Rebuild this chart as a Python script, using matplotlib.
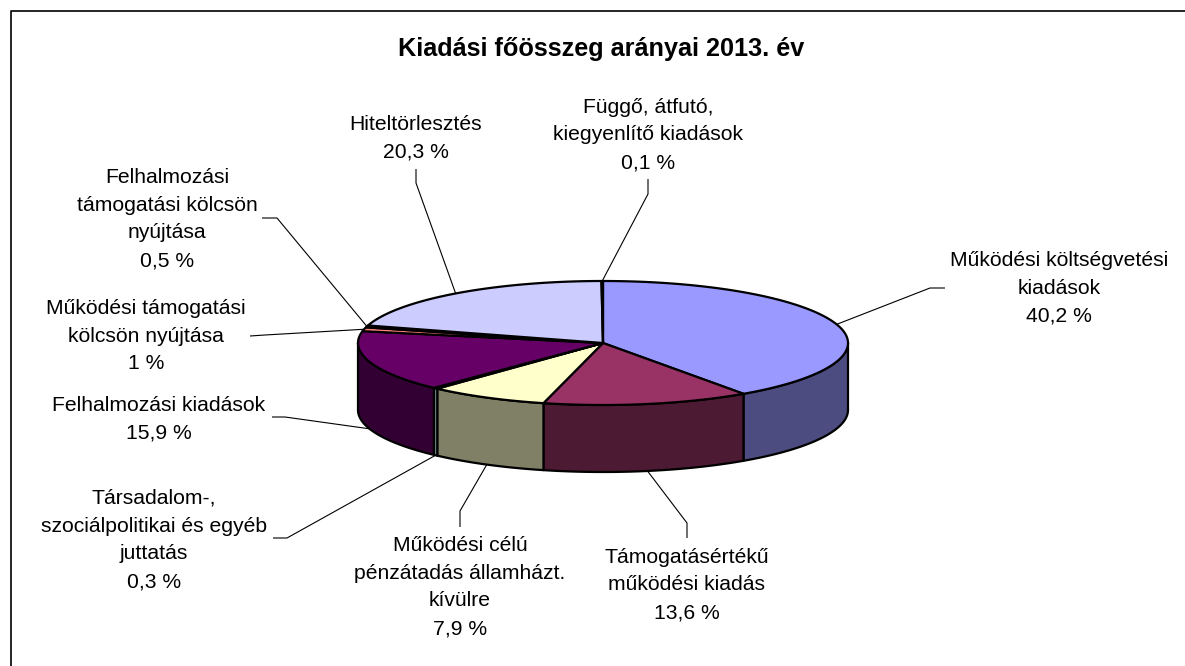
"""
Kiadási főösszeg arányai 2013. év -- 3D-style pie chart (Excel look).
"""

import numpy as np
import matplotlib
matplotlib.use("Agg")
import matplotlib.pyplot as plt
from matplotlib.patches import Polygon

plt.rcParams["font.family"] = ["Liberation Sans", "DejaVu Sans"]

# ── data ──────────────────────────────────────────────────────────
TITLE = "Kiadási főösszeg arányai 2013. év"

labels = [
    "Működési költségvetési\nkiadások",
    "Támogatásértékű\nműködési kiadás",
    "Működési célú\npénzátadás államházt.\nkívülre",
    "Társadalom-,\nszociálpolitikai és egyéb\njuttatás",
    "Felhalmozási kiadások",
    "Működési támogatási\nkölcsön nyújtása",
    "Felhalmozási\ntámogatási kölcsön\nnyújtása",
    "Hiteltörlesztés",
    "Függő, átfutó,\nkiegyenlítő kiadások",
]
values = [40.2, 13.6, 7.9, 0.3, 15.9, 1.0, 0.5, 20.3, 0.1]
value_text = ["40,2 %", "13,6 %", "7,9 %", "0,3 %", "15,9 %", "1 %",
              "0,5 %", "20,3 %", "0,1 %"]

top_colors = ["#9999FF", "#993366", "#FFFFCC", "#CCFFFF", "#660066",
              "#FF8080", "#0066CC", "#CCCCFF", "#000080"]
side_colors = ["#4C4C80", "#4D1A33", "#808066", "#668080", "#330033",
               "#804040", "#003366", "#666680", "#000040"]

# ── layout (pixels, y down) ───────────────────────────────────────
W, H = 1185, 666
CX, CY, RX, RY, DEPTH = 603, 343, 245, 62, 67

label_xy = [(1059, 288), (687, 585), (460, 587), (154, 540), (159, 419),
            (146, 336), (167, 219), (416, 138), (648, 135)]
leader_start = [(945, 288), (687, 538), (460, 527), (273, 538), (272, 417),
                (250, 336), (262, 218), (416, 169), (648, 179)]
leader_elbow = [(930, 288), (687, 523), (460, 511), (287, 538), (285, 417),
                (265, 335), (277, 218), (416, 183), (648, 194)]


def ell(theta_deg, dy=0.0):
    t = np.radians(theta_deg)
    return CX + RX * np.sin(t), CY - RY * np.cos(t) + dy


def main() -> None:
    fig = plt.figure(figsize=(W / 100, H / 100), dpi=100)
    ax = fig.add_axes([0, 0, 1, 1])
    ax.set_xlim(0, W)
    ax.set_ylim(H, 0)
    ax.axis("off")

    # chart border (right / bottom edges fall outside the picture)
    ax.plot([10.5, 10.5, W + 5], [H + 5, 10.5, 10.5], color="black", lw=1.2)

    ax.text(601, 49, TITLE, ha="center", va="center", fontsize=18.2,
            fontweight="bold")

    total = sum(values)
    bounds = np.concatenate([[0], np.cumsum(values)]) / total * 360.0

    # ── side walls (front half only) ───────────────────────────────
    for i in range(len(values)):
        a0, a1 = max(bounds[i], 90.0), min(bounds[i + 1], 270.0)
        if a1 <= a0:
            continue
        th = np.linspace(a0, a1, 80)
        xt, yt = ell(th)
        xb, yb = ell(th[::-1], DEPTH)
        pts = np.column_stack([np.r_[xt, xb], np.r_[yt, yb]])
        ax.add_patch(Polygon(pts, closed=True, fc=side_colors[i],
                             ec="black", lw=1.6, joinstyle="round"))

    # ── top faces ─────────────────────────────────────────────────
    for i in range(len(values)):
        th = np.linspace(bounds[i], bounds[i + 1], 120)
        xt, yt = ell(th)
        pts = np.column_stack([np.r_[CX, xt], np.r_[CY, yt]])
        ax.add_patch(Polygon(pts, closed=True, fc=top_colors[i],
                             ec="black", lw=1.6, joinstyle="round"))

    # ── labels and leader lines ───────────────────────────────────
    for i in range(len(values)):
        mid = (bounds[i] + bounds[i + 1]) / 2
        front = 90 < mid < 270
        ex, ey = ell(mid, DEPTH if front else 0.0)
        sx, sy = leader_start[i]
        bx, by = leader_elbow[i]
        ax.plot([sx, bx, ex], [sy, by, ey], color="black", lw=0.8,
                solid_capstyle="butt")
        ax.text(*label_xy[i], labels[i] + "\n" + value_text[i],
                ha="center", va="center", fontsize=15.2, linespacing=1.58,
                multialignment="center")

    fig.savefig("out.png", dpi=100)


if __name__ == "__main__":
    main()
